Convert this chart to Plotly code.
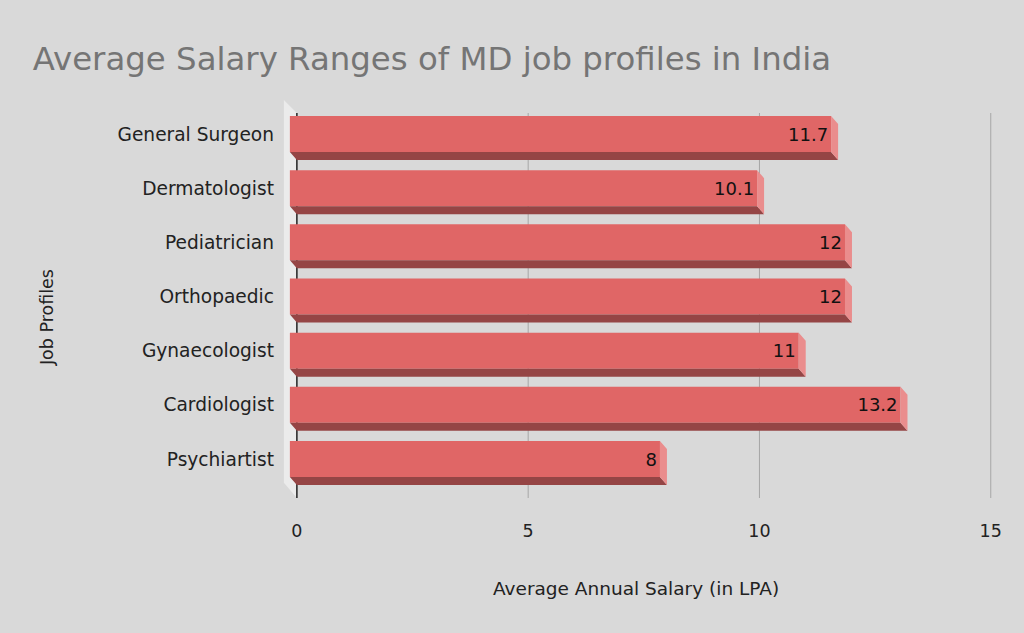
import plotly.graph_objects as go

# chart data
profiles = ["General Surgeon", "Dermatologist", "Pediatrician", "Orthopaedic",
            "Gynaecologist", "Cardiologist", "Psychiartist"]
salary = [11.7, 10.1, 12, 12, 11, 13.2, 8]
x_ticks = [0, 5, 10, 15]

FONT = "Comic Sans MS, DejaVu Sans, sans-serif"
BG = "#d9d9d9"
FRONT = "#e06666"
BOTTOM = "#954545"
SIDE = "#ea8d8d"

# 3d depth offsets (in axis units)
dx, dy, h = 0.151, 0.148, 0.665
pos = list(range(len(profiles)))

fig = go.Figure()

# front faces
fig.add_trace(go.Bar(
    y=pos, x=salary, base=[-dx] * len(salary), orientation="h", width=h,
    marker=dict(color=FRONT, line=dict(width=0)),
    text=[f"{v:g}" for v in salary], textposition="inside",
    insidetextanchor="end", textangle=0, constraintext="none",
    textfont=dict(family=FONT, size=18, color="#111111"),
    hoverinfo="skip",
))

# bottom and side faces
bx, by, sx, sy = [], [], [], []
for p, v in zip(pos, salary):
    bx += [-dx, v - dx, v, 0, -dx, None]
    by += [p + h / 2, p + h / 2, p + h / 2 + dy, p + h / 2 + dy, p + h / 2, None]
    sx += [v - dx, v, v, v - dx, v - dx, None]
    sy += [p - h / 2, p - h / 2 + dy, p + h / 2 + dy, p + h / 2, p - h / 2, None]
fig.add_trace(go.Scatter(x=bx, y=by, fill="toself", fillcolor=BOTTOM, mode="none",
                         hoverinfo="skip"))
fig.add_trace(go.Scatter(x=sx, y=sy, fill="toself", fillcolor=SIDE, mode="none",
                         hoverinfo="skip"))

# back wall, grid and axis line
top, bot = -0.388, 6.72
fig.add_shape(type="path", layer="below", line=dict(width=0), fillcolor="#ebebeb",
              path=f"M -0.281 -0.628 L 0 {top} L 0 {bot} L -0.281 6.44 Z")
for t in x_ticks[1:]:
    fig.add_shape(type="line", layer="below", x0=t, x1=t, y0=top, y1=bot,
                  line=dict(color="#a6a6a6", width=1))
fig.add_shape(type="line", layer="below", x0=0, x1=0, y0=top, y1=bot,
              line=dict(color="#222222", width=1.5))

fig.update_layout(
    width=1024, height=633,
    paper_bgcolor=BG, plot_bgcolor=BG,
    margin=dict(l=283, r=24, t=98, b=135),
    showlegend=False,
    font=dict(family=FONT, color="#222222"),
    title=dict(text="Average Salary Ranges of MD job profiles in India",
               x=0.032, xanchor="left", y=0.908, yanchor="middle",
               font=dict(family=FONT, size=32.4, color="#757575")),
    annotations=[
        dict(text="Average Annual Salary (in LPA)", xref="paper", yref="paper",
             x=0.493, y=-0.225, xanchor="center", yanchor="middle", showarrow=False,
             font=dict(size=18.5, color="#222222")),
        dict(text="Job Profiles", xref="paper", yref="paper", x=-0.329, y=0.45,
             xanchor="center", yanchor="middle", textangle=-90, showarrow=False,
             font=dict(size=17.5, color="#222222")),
    ],
)
fig.update_xaxes(range=[-0.3, 15.2], tickvals=x_ticks, showgrid=False, zeroline=False,
                 showline=False, ticklabelstandoff=20, tickfont=dict(size=17.5))
fig.update_yaxes(range=[6.72, -0.665], tickvals=pos, ticktext=profiles, showgrid=False,
                 zeroline=False, showline=False, ticklabelstandoff=8,
                 tickfont=dict(size=18.6))

fig.write_html("out.html", config={"displayModeBar": False},
               post_script="document.body.style.margin='0';")
